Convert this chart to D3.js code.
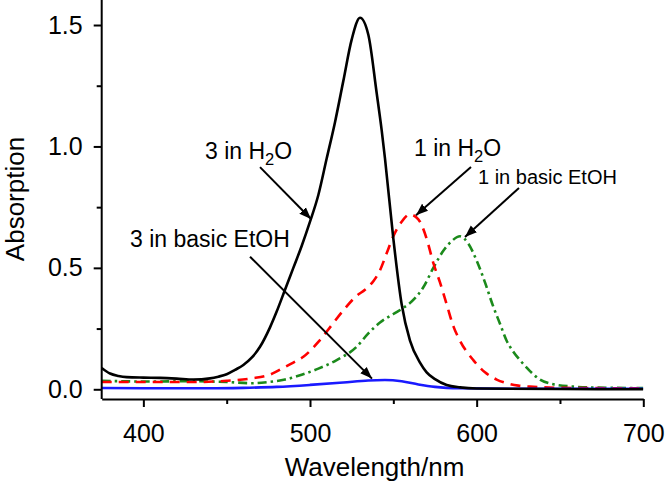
<!DOCTYPE html>
<html>
<head>
<meta charset="utf-8">
<script src="https://cdn.jsdelivr.net/npm/d3@7"></script>
<style>
  html, body { margin: 0; padding: 0; background: #fff; }
  svg { display: block; font-family: "Liberation Sans", Arial, sans-serif; }
</style>
</head>
<body>
<svg id="chart" width="666" height="486"></svg>
<script>
// ---- data (wavelength nm, absorption) ----
const wl_black = [375,380,385,390,400,410,420,430,440,445,450,455,460,465,470,476,480,485,490,495,500,505,510,515,520,525,530,535,540,543,545,550,555,560,566,570,575,582,590,600,650,700];
const ab_black = [0.088,0.065,0.055,0.05,0.048,0.047,0.044,0.04,0.045,0.052,0.062,0.08,0.1,0.13,0.175,0.255,0.32,0.41,0.5,0.59,0.69,0.8,0.95,1.1,1.27,1.44,1.53,1.46,1.22,1.067,0.95,0.62,0.35,0.2,0.11,0.07,0.042,0.018,0.008,0.003,0.001,0.0];

const wl_red = [375,400,430,450,465,475,485,490,496,505,512,520,528,533,538,542,546,550,555,560,565,570,574,578,582,586,590,598,605,612,618,625,632,650,700];
const ab_red = [0.03,0.03,0.03,0.035,0.045,0.058,0.092,0.11,0.134,0.195,0.255,0.325,0.385,0.41,0.445,0.49,0.56,0.63,0.69,0.72,0.70,0.62,0.52,0.44,0.35,0.26,0.2,0.12,0.07,0.04,0.025,0.015,0.011,0.006,0.004];

const wl_green = [375,400,430,450,465,475,485,495,505,516,528,535,542,550,556,563,568,574,580,585,590,595,600,605,610,614,618,622,626,632,638,645,658,670,700];
const ab_green = [0.035,0.032,0.033,0.03,0.025,0.03,0.04,0.06,0.085,0.12,0.175,0.23,0.275,0.31,0.335,0.375,0.42,0.5,0.57,0.61,0.63,0.6,0.53,0.44,0.34,0.27,0.2,0.155,0.12,0.075,0.04,0.022,0.011,0.007,0.005];

const wl_blue = [375,400,440,460,480,500,520,535,545,555,565,575,590,620,700];
const ab_blue = [0.005,0.004,0.004,0.006,0.01,0.018,0.028,0.036,0.038,0.033,0.02,0.01,0.004,0.002,0.002];

const xTicks = [400, 500, 600, 700];
const xMinor = [450, 550, 650];
const yTicks = [0.0, 0.5, 1.0, 1.5];
const yMinor = [0.25, 0.75, 1.25];

// annotations: label, text anchor point (data), arrow start/end (data)
const annLabels = ["3 in H2O", "1 in H2O", "1 in basic EtOH", "3 in basic EtOH"];
const annText = [[437, 0.948], [562.4, 0.961], [600.8, 0.845], [392, 0.586]];
const annFrom = [[470, 0.915], [596.6, 0.915], [625.4, 0.829], [464, 0.546]];
const annTo = [[500.6, 0.701], [563.6, 0.717], [593, 0.627], [537.2, 0.044]];

// ---- layout ----
const svg = d3.select("#chart");
const L = 101.7, R = 643.3, T = 0, B = 399;
const x = d3.scaleLinear().domain([375, 700]).range([L, R]);
const y = d3.scaleLinear().domain([-0.04, 1.603]).range([B, T]);

svg.append("defs").append("clipPath").attr("id", "clip")
  .append("rect").attr("x", L).attr("y", T).attr("width", R - L).attr("height", B - T);
svg.select("defs").append("marker")
  .attr("id", "arrow").attr("viewBox", "0 0 10 10").attr("refX", 10).attr("refY", 5)
  .attr("markerWidth", 6).attr("markerHeight", 6).attr("markerUnits", "strokeWidth")
  .attr("orient", "auto")
  .append("path").attr("d", "M0,1.2 L10,5 L0,8.8 Z").attr("fill", "#000");

const line = d3.line().x(d => x(d[0])).y(d => y(d[1])).curve(d3.curveMonotoneX);
const g = svg.append("g").attr("clip-path", "url(#clip)");

const series = [
  { w: wl_green, a: ab_green, color: "#1b8a1b", dash: "9,4,2.5,4" },
  { w: wl_red, a: ab_red, color: "#ff0000", dash: "10,7" },
  { w: wl_blue, a: ab_blue, color: "#1a1aff", dash: null },
  { w: wl_black, a: ab_black, color: "#000000", dash: null }
];
series.forEach(s => {
  const pts = s.w.map((v, i) => [v, s.a[i]]);
  g.append("path").datum(pts).attr("d", line)
    .attr("fill", "none").attr("stroke", s.color)
    .attr("stroke-width", 2.6)
    .attr("stroke-dasharray", s.dash)
    .attr("stroke-linejoin", "round");
});

// ---- axes ----
function styleAxis(sel) {
  sel.selectAll(".domain").attr("stroke", "#000").attr("stroke-width", 2);
  sel.selectAll(".tick line").attr("stroke", "#000").attr("stroke-width", 2);
  sel.selectAll(".tick text").attr("fill", "#000").attr("font-size", "25px")
    .attr("font-family", "Liberation Sans, Arial, sans-serif");
}
const xAxis = svg.append("g").attr("transform", `translate(0,${B})`)
  .call(d3.axisBottom(x).tickValues(xTicks).tickFormat(d3.format("d")).tickSize(8).tickSizeOuter(0).tickPadding(6));
styleAxis(xAxis);
xAxis.selectAll(".tick text").attr("dy", "1.15em");
const xAxisMinor = svg.append("g").attr("transform", `translate(0,${B})`)
  .call(d3.axisBottom(x).tickValues(xMinor).tickFormat("").tickSize(5).tickSizeOuter(0));
styleAxis(xAxisMinor);
xAxisMinor.select(".domain").remove();

const yAxis = svg.append("g").attr("transform", `translate(${L},0)`)
  .call(d3.axisLeft(y).tickValues(yTicks).tickFormat(d3.format(".1f")).tickSize(8).tickSizeOuter(0).tickPadding(11));
styleAxis(yAxis);
yAxis.select(".domain").attr("d", `M0,${T}V${B}`);
const yAxisMinor = svg.append("g").attr("transform", `translate(${L},0)`)
  .call(d3.axisLeft(y).tickValues(yMinor).tickFormat("").tickSize(5).tickSizeOuter(0));
styleAxis(yAxisMinor);
yAxisMinor.select(".domain").remove();

// axis titles
svg.append("text").attr("x", (L + R) / 2 + 2).attr("y", 476)
  .attr("text-anchor", "middle").attr("font-size", "26px").attr("fill", "#000")
  .text("Wavelength/nm");
svg.append("text").attr("transform", `translate(24,${199}) rotate(-90)`)
  .attr("text-anchor", "middle").attr("font-size", "26px").attr("fill", "#000")
  .text("Absorption");

// ---- annotations ----
const annSize = [23, 23, 20, 23];
annLabels.forEach((lab, i) => {
  const t = svg.append("text").attr("x", x(annText[i][0])).attr("y", y(annText[i][1]))
    .attr("font-size", annSize[i] + "px").attr("fill", "#000");
  const m = lab.match(/^(.*H)2(O)$/);
  if (m) {
    t.append("tspan").text(m[1]);
    t.append("tspan").text("2").attr("font-size", (annSize[i] * 0.72) + "px").attr("dy", 6);
    t.append("tspan").text(m[2]).attr("dy", -6);
  } else {
    t.text(lab);
  }
  svg.append("line")
    .attr("x1", x(annFrom[i][0])).attr("y1", y(annFrom[i][1]))
    .attr("x2", x(annTo[i][0])).attr("y2", y(annTo[i][1]))
    .attr("stroke", "#000").attr("stroke-width", 2)
    .attr("marker-end", "url(#arrow)");
});
</script>
</body>
</html>
